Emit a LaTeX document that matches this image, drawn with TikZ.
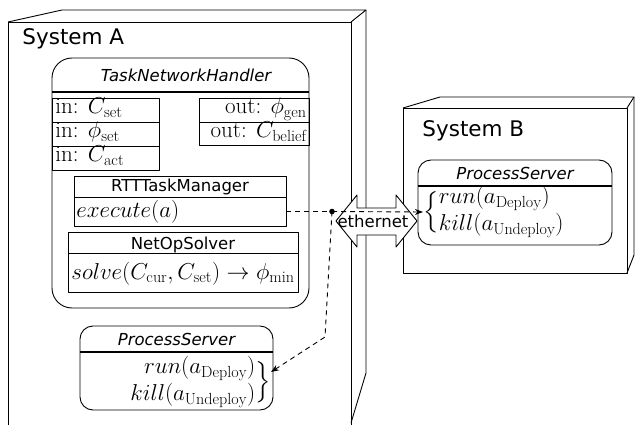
\RequirePackage{fix-cm}
\documentclass[tikz,border=0pt]{standalone}
\usepackage{fontspec}
\setsansfont{DejaVu Sans}
\usetikzlibrary{arrows.meta}
\DeclareFontFamily{OMX}{cmex}{}
\DeclareFontShape{OMX}{cmex}{m}{n}{<->cmex10}{}
\newcommand{\sysfont}{\fontsize{21.5}{26}\selectfont\sffamily}
\newcommand{\clsfont}{\fontsize{16.5}{20}\selectfont\sffamily}
\newcommand{\mfont}{\fontsize{23}{27}\selectfont}
\newcommand{\bracestrut}{\vcenter{\hbox{\rule{0pt}{37pt}}}}
\newcommand{\lbrc}{\mathopen{\left\{\bracestrut\right.}}
\newcommand{\rbrc}{\mathclose{\left.\bracestrut\right\}}}
\begin{document}
\nulldelimiterspace=0pt
\begin{tikzpicture}[x=1pt,y=-1pt,line width=0.9pt,line join=round,
  boxln/.style={draw,rectangle,inner sep=0pt,outer sep=0pt},
  rbox/.style={draw,rectangle,rounded corners=#1,inner sep=0pt,outer sep=0pt},
  sepline/.style={line width=2pt},
  lbl/.style={inner sep=0pt,font=\clsfont},
  syslbl/.style={inner sep=0pt,font=\sysfont,anchor=base west},
  mtxt/.style={inner sep=0pt,font=\mfont},
  dashline/.style={dash pattern=on 5pt off 4pt,line width=0.9pt},
  tip/.style={-{Stealth[length=8pt,width=6pt]}}]
\useasboundingbox (0,0) rectangle (635,425);

% System A (3D box)
\draw (8,425) -- (8,22) -- (351,22) -- (351,425);
\draw (8,22) -- (62,10) -- (366,10) -- (351,22);
\draw (366,10) -- (366,373) -- (351,423);
\node[syslbl] (sysA) at (22,45) {System A};

% System B (3D box)
\draw (403,108) rectangle (627,273);
\draw (403,108) -- (440,97) -- (634,97) -- (627,108);
\draw (634,97) -- (634,255) -- (627,273);
\node[syslbl] (sysB) at (422,137) {System B};

% TaskNetworkHandler
\node[rbox=20pt,anchor=north west,minimum width=257pt,minimum height=250pt] (tnh) at (52,58) {};
\draw[sepline] (52,92) -- (309,92);
\node[lbl,anchor=base] (tnhname) at (186,82) {\itshape TaskNetworkHandler};

% inputs
\node[boxln,anchor=north west,minimum width=107pt,minimum height=24pt] (in1) at (52,98) {};
\node[boxln,anchor=north west,minimum width=107pt,minimum height=24pt] (in2) at (52,122) {};
\node[boxln,anchor=north west,minimum width=107pt,minimum height=24pt] (in3) at (52,146) {};
\node[mtxt,anchor=base west] (in1t) at (55,114) {in: $C_{\mathrm{set}}$};
\node[mtxt,anchor=base west] (in2t) at (55,138) {in: $\phi_{\mathrm{set}}$};
\node[mtxt,anchor=base west] (in3t) at (55,162) {in: $C_{\mathrm{act}}$};

% outputs
\node[boxln,anchor=north west,minimum width=110pt,minimum height=24pt] (out1) at (199,98) {};
\node[boxln,anchor=north west,minimum width=110pt,minimum height=23pt] (out2) at (199,122) {};
\node[mtxt,anchor=base east] (out1t) at (307,114) {out: $\phi_{\mathrm{gen}}$};
\node[mtxt,anchor=base east] (out2t) at (307,138) {out: $C_{\mathrm{belief}}$};

% RTTTaskManager
\node[boxln,anchor=north west,minimum width=212pt,minimum height=21pt] (rtth) at (74,176) {};
\node[boxln,anchor=north west,minimum width=212pt,minimum height=29pt] (rttb) at (74,197) {};
\node[lbl,anchor=base] (rttname) at (180,192) {RTTTaskManager};
\node[mtxt,anchor=base west] (rttop) at (76,218) {$execute(a)$};

% NetOpSolver
\node[boxln,anchor=north west,minimum width=230pt,minimum height=21pt] (noh) at (68,232) {};
\node[boxln,anchor=north west,minimum width=230pt,minimum height=39pt] (nob) at (68,253) {};
\node[lbl,anchor=base] (noname) at (183,249) {NetOpSolver};
\node[mtxt,anchor=base] (noop) at (183,279) {$solve(C_{\mathrm{cur}},C_{\mathrm{set}})\to\phi_{\mathrm{min}}$};

% ProcessServer in System A
\node[rbox=13pt,anchor=north west,minimum width=193pt,minimum height=84pt] (psA) at (80,326) {};
\draw[sepline] (80,352) -- (273,352);
\node[lbl,anchor=base] (psAname) at (176.5,345) {\itshape ProcessServer};
\node[mtxt,anchor=east] (psAm) at (271,382) {$\begin{array}{@{}r@{}}run(a_{\mathrm{Deploy}})\\ kill(a_{\mathrm{Undeploy}})\end{array}\rbrc$};

% ProcessServer in System B
\node[rbox=13pt,anchor=north west,minimum width=194pt,minimum height=85pt] (psB) at (418,160) {};
\draw[sepline] (418,186) -- (612,186);
\node[lbl,anchor=base] (psBname) at (515,180) {\itshape ProcessServer};
\node[mtxt,anchor=west] (psBm) at (423,212) {$\lbrc\begin{array}{@{}l@{}}run(a_{\mathrm{Deploy}})\\ kill(a_{\mathrm{Undeploy}})\end{array}$};

% ethernet double arrow
\draw[fill=white] (336,221) -- (357,195) -- (357,208) -- (396,208) -- (396,195)
  -- (417,221) -- (396,247) -- (396,235) -- (357,235) -- (357,247) -- cycle;
\node[lbl,anchor=base] (eth) at (373,227) {ethernet};

% connectors
\coordinate (jn) at (332,211.5);
\coordinate (bend) at (325,337);
\draw[dashline] (rttb.east) -- (jn);
\draw[dashline,tip] (jn) -- (psBm.west);
\draw[dashline,tip] (jn) -- (bend) -- ([yshift=10pt]psAm.east);
\fill (jn) circle (2.8pt);
\end{tikzpicture}
\end{document}
